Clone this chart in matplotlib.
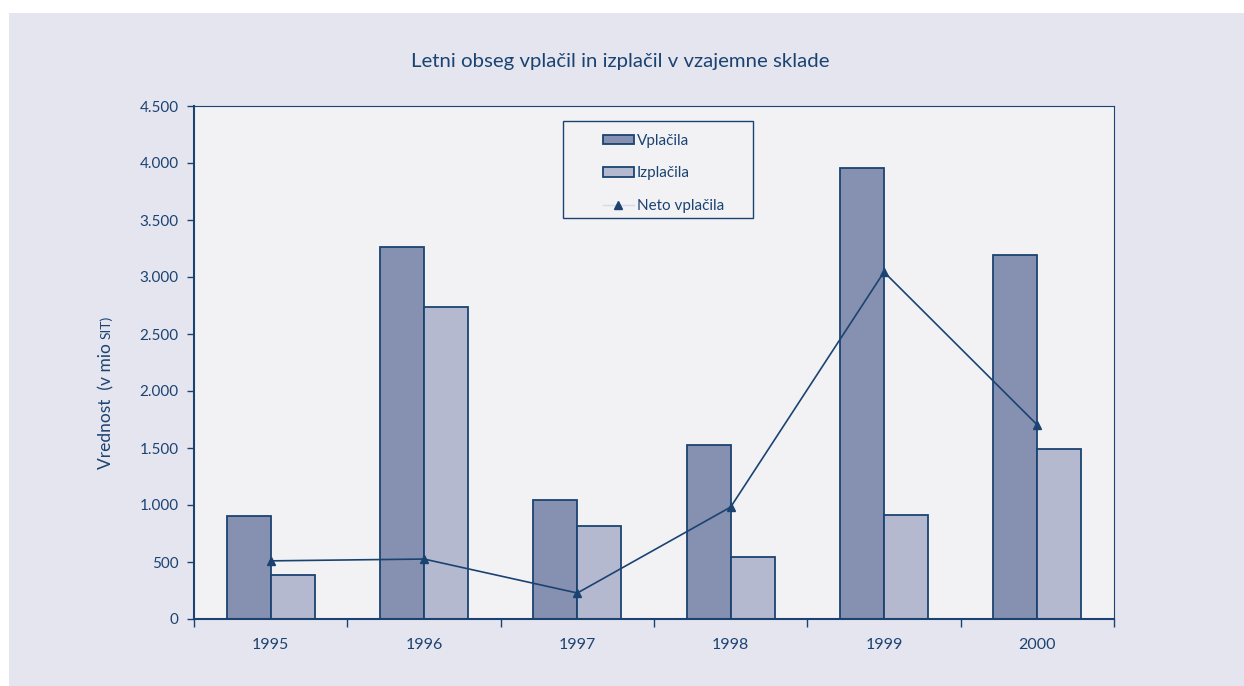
import matplotlib.pyplot as plt
import numpy as np
from matplotlib.patches import Rectangle
from matplotlib.lines import Line2D

years = ['1995', '1996', '1997', '1998', '1999', '2000']
vplacila = [900, 3263, 1044, 1526, 3956, 3193]
izplacila = [390, 2737, 816, 544, 912, 1491]
neto = [510, 526, 228, 982, 3044, 1702]

blue = '#1b4372'
darkBar = '#8690b0'
lightBar = '#b4b9cf'
panelBg = '#e5e5ef'
plotBg = '#f2f2f5'

plt.rcParams['font.family'] = ['Lato', 'DejaVu Sans']

W, H = 1244, 686
fig = plt.figure(figsize=(W / 100, H / 100), dpi=100)
fig.patch.set_facecolor('white')
# outer grey panel
fig.patches.append(Rectangle((9 / W, 0), 1 - 9 / W, 1 - 13 / H, transform=fig.transFigure,
                             facecolor=panelBg, edgecolor='none', zorder=-10))

ax = fig.add_axes([194 / W, 1 - 619 / H, 920 / W, 513 / H])
ax.set_facecolor(plotBg)

x = np.arange(len(years))
w = 0.287
b1 = ax.bar(x - w / 2, vplacila, w, color=darkBar, edgecolor=blue, linewidth=1.3, label='Vplačila', zorder=2)
b2 = ax.bar(x + w / 2, izplacila, w, color=lightBar, edgecolor=blue, linewidth=1.3, label='Izplačila', zorder=2)
ax.plot(x, neto, color=blue, linewidth=1.2, marker='^', markersize=6, zorder=3)

ax.set_xlim(-0.5, len(years) - 0.5)
ax.set_ylim(0, 4500)
ax.set_yticks(np.arange(0, 4501, 500))
ax.set_yticklabels([f'{v:,}'.replace(',', '.') for v in range(0, 4501, 500)])
ax.set_xticks(x)
ax.set_xticklabels(years)
ax.set_xticks(np.arange(-0.5, len(years)), minor=True)
ax.tick_params(axis='x', which='major', length=0, pad=14, labelsize=11.5, labelcolor=blue)
ax.tick_params(axis='x', which='minor', length=6, width=1, color=blue, direction='out')
ax.tick_params(axis='y', length=5, width=1, color=blue, labelsize=11, labelcolor=blue, pad=6)

for side in ['top', 'right']:
    ax.spines[side].set_color(blue)
    ax.spines[side].set_linewidth(0.8)
for side in ['left', 'bottom']:
    ax.spines[side].set_color(blue)
    ax.spines[side].set_linewidth(1.5)

fig.text(620 / W, 1 - 62 / H, 'Letni obseg vplačil in izplačil v vzajemne sklade',
         ha='center', va='center', fontsize=14.7, color=blue)
# y label, "SIT)" set a bit smaller as in the original
fig.text(106 / W, 1 - 339 / H, 'Vrednost  (v mio ', rotation=90,
         ha='center', va='top', fontsize=12.5, color=blue)
fig.text(106 / W, 1 - 339 / H, 'SIT)', rotation=90,
         ha='center', va='bottom', fontsize=10, color=blue)

# legend frame drawn by hand, legend entries inside
fig.patches.append(Rectangle((563 / W, 1 - 218 / H), 190 / W, 97 / H, transform=fig.transFigure,
                             facecolor=plotBg, edgecolor=blue, linewidth=1, zorder=4))
netoHandle = Line2D([], [], color='#d6d9e6', linewidth=1, marker='^', markersize=6,
                    markerfacecolor=blue, markeredgecolor=blue)
leg = fig.legend([b1, b2, netoHandle], ['Vplačila', 'Izplačila', 'Neto vplačila'],
                 loc='upper left', bbox_to_anchor=(603 / W, 1 - 134 / H),
                 frameon=False, fontsize=11, labelcolor=blue,
                 handlelength=2.0, handleheight=0.55, handletextpad=0.2,
                 borderpad=0, labelspacing=1.2, borderaxespad=0)
leg.set_zorder(5)

fig.savefig('out.png', dpi=100)
